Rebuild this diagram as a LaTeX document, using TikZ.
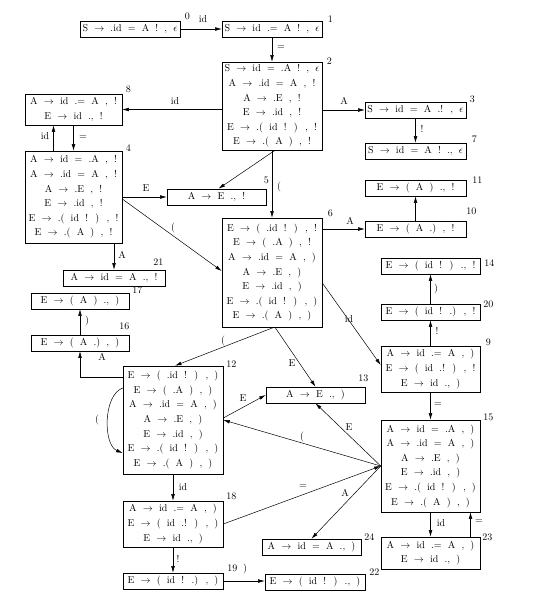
\documentclass[tikz,border=0pt]{standalone}
\usetikzlibrary{arrows.meta}
\newcommand\itemfont{\fontsize{10}{14.6}\selectfont\spaceskip=6.2pt\relax}
\newcommand\lblfont{\fontsize{10}{12}\selectfont}
\begin{document}
\begin{tikzpicture}[x=1pt,y=-1pt,
  item/.style={draw, line width=0.6pt, inner sep=0pt, align=center, font=\itemfont},
  arr/.style={-{Latex[length=6.5pt,width=3.6pt]}, line width=0.5pt},
  elab/.style={font=\lblfont, inner sep=0pt},
  num/.style={font=\lblfont, inner sep=0pt}]
\fill[white] (0,0) rectangle (538,605);
\useasboundingbox (0,0) rectangle (538,605);

% item sets
\node[item, minimum width=100pt, minimum height=16pt] (s0) at (130,29) {S $\rightarrow$ .id = A ! , $\epsilon$};
\node[item, minimum width=100pt, minimum height=16pt] (s1) at (272,29) {S $\rightarrow$ id .= A ! , $\epsilon$};
\node[item, minimum width=100pt, minimum height=88pt] (s2) at (272,106) {S $\rightarrow$ id = .A ! , $\epsilon$\\ A $\rightarrow$ .id = A , !\\ A $\rightarrow$ .E , !\\ E $\rightarrow$ .id , !\\ E $\rightarrow$ .( id ! ) , !\\ E $\rightarrow$ .( A ) , !};
\node[item, minimum width=101pt, minimum height=16pt] (s3) at (415.5,110) {S $\rightarrow$ id = A .! , $\epsilon$};
\node[item, minimum width=101pt, minimum height=16pt] (s7) at (415.5,151) {S $\rightarrow$ id = A ! ., $\epsilon$};
\node[item, minimum width=97pt, minimum height=31pt] (s8) at (73.5,109.5) {A $\rightarrow$ id .= A , !\\ E $\rightarrow$ id ., !};
\node[item, minimum width=97pt, minimum height=92pt] (s4) at (73.5,197) {A $\rightarrow$ id = .A , !\\ A $\rightarrow$ .id = A , !\\ A $\rightarrow$ .E , !\\ E $\rightarrow$ .id , !\\ E $\rightarrow$ .( id ! ) , !\\ E $\rightarrow$ .( A ) , !};
\node[item, minimum width=99pt, minimum height=16pt] (s5) at (216.5,197) {A $\rightarrow$ E ., !};
\node[item, minimum width=101pt, minimum height=16pt] (s11) at (415.5,188) {E $\rightarrow$ ( A ) ., !};
\node[item, minimum width=101pt, minimum height=16pt] (s10) at (415.5,229) {E $\rightarrow$ ( A .) , !};
\node[item, minimum width=100pt, minimum height=109pt] (s6) at (272,272.5) {E $\rightarrow$ ( .id ! ) , !\\ E $\rightarrow$ ( .A ) , !\\ A $\rightarrow$ .id = A , )\\ A $\rightarrow$ .E , )\\ E $\rightarrow$ .id , )\\ E $\rightarrow$ .( id ! ) , )\\ E $\rightarrow$ .( A ) , )};
\node[item, minimum width=102pt, minimum height=16pt] (s21) at (114,278) {A $\rightarrow$ id = A ., !};
\node[item, minimum width=99pt, minimum height=16pt] (s14) at (430.5,266) {E $\rightarrow$ ( id ! ) ., !};
\node[item, minimum width=98pt, minimum height=16pt] (s17) at (80,301) {E $\rightarrow$ ( A ) ., )};
\node[item, minimum width=99pt, minimum height=16pt] (s20) at (430.5,312) {E $\rightarrow$ ( id ! .) , !};
\node[item, minimum width=98pt, minimum height=16pt] (s16) at (80,343) {E $\rightarrow$ ( A .) , )};
\node[item, minimum width=99pt, minimum height=46pt] (s9) at (430.5,369) {A $\rightarrow$ id .= A , )\\ E $\rightarrow$ ( id .! ) , !\\ E $\rightarrow$ id ., )};
\node[item, minimum width=100pt, minimum height=108pt] (s12) at (173,420) {E $\rightarrow$ ( .id ! ) , )\\ E $\rightarrow$ ( .A ) , )\\ A $\rightarrow$ .id = A , )\\ A $\rightarrow$ .E , )\\ E $\rightarrow$ .id , )\\ E $\rightarrow$ .( id ! ) , )\\ E $\rightarrow$ .( A ) , )};
\node[item, minimum width=99pt, minimum height=16pt] (s13) at (315.5,395) {A $\rightarrow$ E ., )};
\node[item, minimum width=99pt, minimum height=92pt] (s15) at (430.5,466) {A $\rightarrow$ id = .A , )\\ A $\rightarrow$ .id = A , )\\ A $\rightarrow$ .E , )\\ E $\rightarrow$ .id , )\\ E $\rightarrow$ .( id ! ) , )\\ E $\rightarrow$ .( A ) , )};
\node[item, minimum width=100pt, minimum height=46pt] (s18) at (173,524) {A $\rightarrow$ id .= A , )\\ E $\rightarrow$ ( id .! ) , )\\ E $\rightarrow$ id ., )};
\node[item, minimum width=99pt, minimum height=16pt] (s24) at (311.5,547) {A $\rightarrow$ id = A ., )};
\node[item, minimum width=99pt, minimum height=32pt] (s23) at (430.5,553) {A $\rightarrow$ id .= A , )\\ E $\rightarrow$ id ., )};
\node[item, minimum width=100pt, minimum height=16pt] (s19) at (173,581) {E $\rightarrow$ ( id ! .) , )};
\node[item, minimum width=100pt, minimum height=16pt] (s22) at (315,582) {E $\rightarrow$ ( id ! ) ., )};

% state numbers
\node[num] at ([shift={(7,-4)}]s0.north east) {0};
\node[num] at ([shift={(8,-2)}]s1.north east) {1};
\node[num] at ([shift={(7,-1)}]s2.north east) {2};
\node[num] at ([shift={(6,-2)}]s3.north east) {3};
\node[num] at ([shift={(6,-3)}]s4.north east) {4};
\node[num] at ([shift={(0,-8)}]s5.north east) {5};
\node[num] at ([shift={(8,-4)}]s6.north east) {6};
\node[num] at ([shift={(8,-3)}]s7.north east) {7};
\node[num] at ([shift={(6,-4)}]s8.north east) {8};
\node[num] at ([shift={(8,-3)}]s9.north east) {9};
\node[num] at ([shift={(5,-9)}]s10.north east) {10};
\node[num] at ([shift={(11,0)}]s11.north east) {11};
\node[num] at ([shift={(8,-2)}]s12.north east) {12};
\node[num] at ([shift={(-2,-8)}]s13.north east) {13};
\node[num] at ([shift={(9,5)}]s14.north east) {14};
\node[num] at ([shift={(8,-2)}]s15.north east) {15};
\node[num] at ([shift={(-5,-8)}]s16.north east) {16};
\node[num] at ([shift={(8,-2)}]s17.north east) {17};
\node[num] at ([shift={(8,-4)}]s18.north east) {18};
\node[num] at ([shift={(9,-4)}]s19.north east) {19};
\node[num] at ([shift={(8,1)}]s20.north east) {20};
\node[num] at ([shift={(-7,-8)}]s21.north east) {21};
\node[num] at ([shift={(9,-2)}]s22.north east) {22};
\node[num] at ([shift={(7,1)}]s23.north east) {23};
\node[num] at ([shift={(8,-2)}]s24.north east) {24};

% transitions
\draw[arr] (s0) -- (s1);
\draw[arr] (s1) -- (s2);
\draw[arr] (s2.west |- s8.east) -- (s8.east);
\draw[arr] (s2.east |- s3.west) -- (s3.west);
\draw[arr] (s3) -- (s7);
\draw[arr] (s8.south) -- (s4.north);
\draw[arr] ([xshift=-20pt]s4.north) -- ([xshift=-20pt]s8.south);
\draw[arr] (s4) -- (s5);
\draw[arr] ([xshift=3pt]s2.south) -- ([xshift=2pt]s5.north);
\draw[arr] (s2) -- (s6);
\draw[arr] ([yshift=-2pt]s4.east) -- ([yshift=1.5pt]s6.west);
\draw[arr] (s21.north |- s4.south) -- (s21.north);
\draw[arr] (s6.east |- s10.west) -- (s10.west);
\draw[arr] (s10) -- (s11);
\draw[arr] ([yshift=-10.5pt]s6.east) -- ([yshift=4pt]s9.west);
\draw[arr] ([xshift=2pt]s6.south) -- ([xshift=2pt]s12.north);
\draw[arr] ([xshift=3pt]s6.south) -- (s13.north);
\draw[arr] (s9) -- (s20);
\draw[arr] (s20) -- (s14);
\draw[arr] (s9) -- (s15);
\draw[arr] (s15) -- (s23);
\draw[arr] ([xshift=40pt]s23.north) -- ([xshift=40pt]s15.south);
\draw[arr] (s15.west) -- (s12.east);
\draw[arr] (s15.west) -- (s13.south);
\draw[arr] (s18.east) -- (s15.west);
\draw[arr] (s15.west) -- (s24.north);
\draw[arr] ([yshift=2pt]s12.east) -- (s13.west);
\draw[arr] ([yshift=32pt]s12.west) .. controls (103,395) and (103,445) .. ([yshift=-33pt]s12.west);
\draw[arr] (s12) -- (s18);
\draw[arr] (s18) -- (s19);
\draw[arr] (s19) -- (s19 -| s22.west);
\draw[arr] ([yshift=43pt]s12.west) -| (s16.south);
\draw[arr] (s16) -- (s17);

% transition symbols
\node[elab] at (203,19) {id};
\node[elab] at (281,48) {=};
\node[elab] at (175,101) {id};
\node[elab] at (344,101) {A};
\node[elab] at (422,129) {!};
\node[elab] at (83,138) {=};
\node[elab] at (45,136) {id};
\node[elab] at (146,188) {E};
\node[elab] at (279,187) {(};
\node[elab] at (173,228) {(};
\node[elab] at (122,255) {A};
\node[elab] at (350,221) {A};
\node[elab] at (349,319) {id};
\node[elab] at (223,341) {(};
\node[elab] at (292,363) {E};
\node[elab] at (437,331) {!};
\node[elab] at (436,289) {)};
\node[elab] at (438,405) {=};
\node[elab] at (302,437) {(};
\node[elab] at (349,427) {E};
\node[elab] at (303,487) {=};
\node[elab] at (345,493) {A};
\node[elab] at (441,523) {id};
\node[elab] at (479,522) {=};
\node[elab] at (243,398) {E};
\node[elab] at (97,420) {(};
\node[elab] at (183,487) {id};
\node[elab] at (178,559) {!};
\node[elab] at (245,569) {)};
\node[elab] at (102,357) {A};
\node[elab] at (87,321) {)};
\end{tikzpicture}
\end{document}
